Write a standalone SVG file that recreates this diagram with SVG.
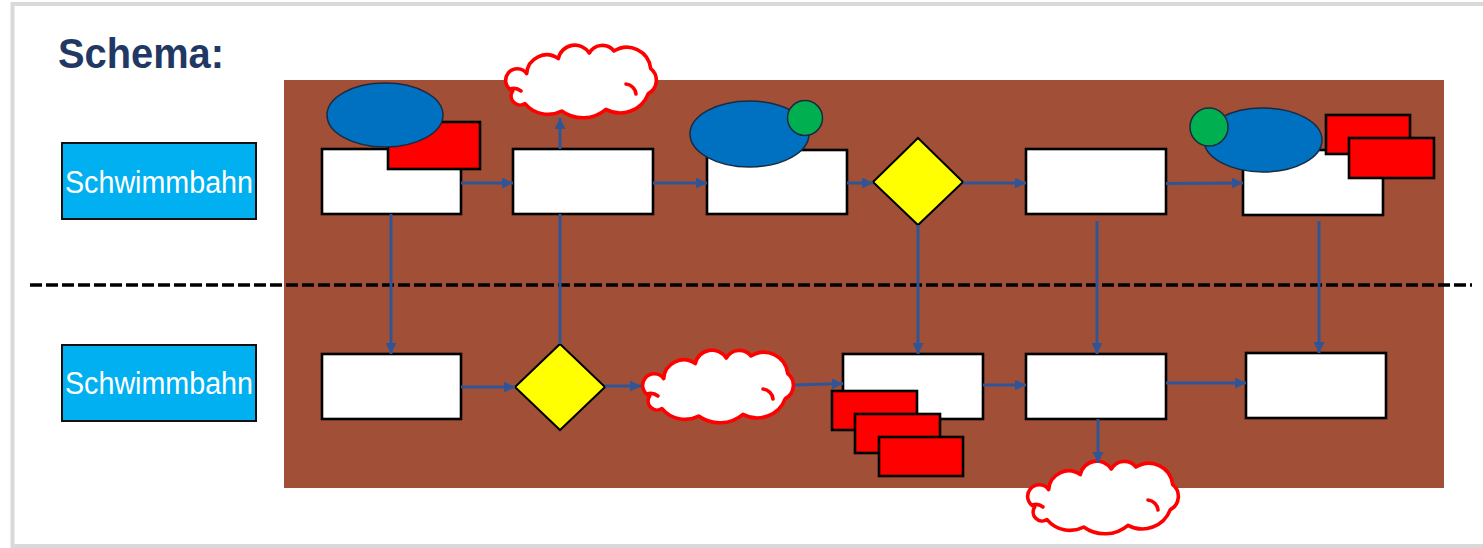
<svg xmlns="http://www.w3.org/2000/svg" xmlns:xlink="http://www.w3.org/1999/xlink" width="1483" height="548" viewBox="0 0 1483 548">
  <style>
    .frame { fill: #ffffff; stroke: #d9d9d9; stroke-width: 4; }
    .title { font-family: "Liberation Sans", Arial, sans-serif; font-weight: bold; font-size: 42px; fill: #1f3864; }
    .lane { fill: #00b0f0; stroke: #111111; stroke-width: 2; }
    .lane-text { font-family: "Liberation Sans", Arial, sans-serif; font-size: 31px; fill: #ffffff; }
    .pool { fill: #a15037; }
    .box { fill: #ffffff; stroke: #000000; stroke-width: 2.6; }
    .doc { fill: #ff0000; stroke: #000000; stroke-width: 2.6; }
    .decision { fill: #ffff00; stroke: #000000; stroke-width: 2; }
    .db { fill: #0070c0; stroke: #1a2a40; stroke-width: 1.5; }
    .dot { fill: #00b050; stroke: #1a2a40; stroke-width: 1.5; }
    .cloud-body { fill: #ffffff; stroke: #ff0000; stroke-width: 3.6; stroke-linejoin: round; }
    .cloud-line { fill: none; stroke: #ff0000; stroke-width: 3.6; stroke-linecap: round; }
    .divider { stroke: #000000; stroke-width: 3.5; stroke-dasharray: 12 4; fill: none; }
    .flow { fill: none; stroke: #2f5597; stroke-width: 3; }
    .flow-arrow { fill: none; stroke: #2f5597; stroke-width: 3; marker-end: url(#arrow); }
  </style>
  <defs>
    <marker id="arrow" markerUnits="userSpaceOnUse" markerWidth="12" markerHeight="11" refX="11" refY="5.5" orient="auto">
      <path d="M0,0 L11,5.5 L0,11 Z" fill="#2f5597"/>
    </marker>
    <!-- cloud shape, local box about 152 x 73 -->
    <g id="cloud">
      <path class="cloud-body" d="M7.7,44 A11.6,11.6 0 1 1 21.7,26.6 A20,20 0 0 1 53.3,11.6 A17,17 0 0 1 84.3,6 A15,15 0 0 1 109,4 A24,24 0 0 1 145.7,21.6 A15,15 0 0 1 143.3,46.6 A30,30 0 0 1 101,62.3 A36,36 0 0 1 56.7,64 A30,30 0 0 1 20,56.6 A9,9 0 0 1 7.7,44 Z"/>
      <path class="cloud-line" d="M121,37 A11,11 0 0 1 131,47"/>
      <path class="cloud-line" d="M5,42 A12,12 0 0 1 16,44"/>
    </g>
  </defs>

  <!-- page frame -->
  <rect class="frame" x="12.5" y="4" width="1500" height="542"/>

  <text class="title" x="58" y="68" textLength="166" lengthAdjust="spacingAndGlyphs">Schema:</text>

  <!-- pool background -->
  <rect class="pool" x="284" y="80" width="1160" height="408"/>

  <!-- lane separator -->
  <line class="divider" x1="30" y1="285" x2="1472" y2="285"/>

  <!-- lane labels -->
  <g id="lane-top">
    <rect class="lane" x="62" y="143" width="194" height="76"/>
    <text class="lane-text" x="159" y="193" text-anchor="middle" textLength="188" lengthAdjust="spacingAndGlyphs">Schwimmbahn</text>
  </g>
  <g id="lane-bottom">
    <rect class="lane" x="62" y="345" width="194" height="76"/>
    <text class="lane-text" x="159" y="394" text-anchor="middle" textLength="188" lengthAdjust="spacingAndGlyphs">Schwimmbahn</text>
  </g>

  <!-- top lane -->
  <g id="t1">
    <rect class="box" x="322" y="149" width="139" height="65"/>
    <rect class="doc" x="388" y="122" width="92" height="47"/>
    <ellipse class="db" cx="385" cy="115" rx="58" ry="32"/>
  </g>
  <g id="t2">
    <rect class="box" x="513" y="149" width="140" height="65"/>
  </g>
  <g id="t2-cloud">
    <use xlink:href="#cloud" transform="translate(505,47)"/>
  </g>
  <g id="t3">
    <rect class="box" x="707" y="150" width="140" height="64"/>
    <ellipse class="db" cx="749.5" cy="134" rx="59.5" ry="33"/>
    <circle class="dot" cx="805" cy="118" r="17.5"/>
  </g>
  <g id="t4">
    <polygon class="decision" points="918,138 963,182 918,225 873,182"/>
  </g>
  <g id="t5">
    <rect class="box" x="1026" y="149" width="140" height="65"/>
  </g>
  <g id="t6">
    <rect class="box" x="1243" y="150" width="140" height="65"/>
    <ellipse class="db" cx="1263" cy="140" rx="59" ry="32"/>
    <circle class="dot" cx="1209" cy="127" r="19"/>
    <rect class="doc" x="1326" y="115" width="84" height="39"/>
    <rect class="doc" x="1349" y="138" width="85" height="40"/>
  </g>

  <!-- bottom lane -->
  <g id="b1">
    <rect class="box" x="322" y="354" width="139" height="65"/>
  </g>
  <g id="b2">
    <polygon class="decision" points="560,344 605,387 560,430 515,387"/>
  </g>
  <g id="b3">
    <use xlink:href="#cloud" transform="translate(642,352)"/>
  </g>
  <g id="b4">
    <rect class="box" x="843" y="354" width="140" height="65"/>
    <rect class="doc" x="832" y="391" width="85" height="39"/>
    <rect class="doc" x="855" y="414" width="85" height="39"/>
    <rect class="doc" x="879" y="437" width="84" height="39"/>
  </g>
  <g id="b5">
    <rect class="box" x="1026" y="354" width="140" height="65"/>
  </g>
  <g id="b6">
    <rect class="box" x="1246" y="353" width="140" height="65"/>
  </g>
  <g id="b5-cloud">
    <use xlink:href="#cloud" transform="translate(1027,463)"/>
  </g>

  <!-- connectors -->
  <g id="connectors">
    <!-- top lane flow -->
    <line class="flow-arrow" x1="461" y1="183" x2="513" y2="183"/>
    <line class="flow-arrow" x1="653" y1="183" x2="707" y2="183"/>
    <line class="flow-arrow" x1="847" y1="183" x2="873" y2="183"/>
    <line class="flow-arrow" x1="963" y1="183" x2="1026" y2="183"/>
    <line class="flow-arrow" x1="1166" y1="183.5" x2="1243" y2="183"/>
    <!-- bottom lane flow -->
    <line class="flow-arrow" x1="461" y1="387" x2="515" y2="387"/>
    <line class="flow-arrow" x1="605" y1="386" x2="641" y2="386"/>
    <line class="flow-arrow" x1="795" y1="385" x2="843" y2="383.5"/>
    <line class="flow-arrow" x1="983" y1="385" x2="1026" y2="385"/>
    <line class="flow-arrow" x1="1166" y1="383" x2="1246" y2="383"/>
    <!-- between lanes -->
    <line class="flow-arrow" x1="391" y1="214" x2="391" y2="354"/>
    <line class="flow" x1="560" y1="344" x2="560" y2="214"/>
    <line class="flow-arrow" x1="560" y1="149" x2="560" y2="118"/>
    <line class="flow-arrow" x1="918" y1="225" x2="918" y2="354"/>
    <line class="flow-arrow" x1="1097" y1="221" x2="1097" y2="354"/>
    <line class="flow-arrow" x1="1319" y1="221" x2="1319" y2="353"/>
    <line class="flow-arrow" x1="1098" y1="419" x2="1098" y2="463"/>
  </g>
</svg>
